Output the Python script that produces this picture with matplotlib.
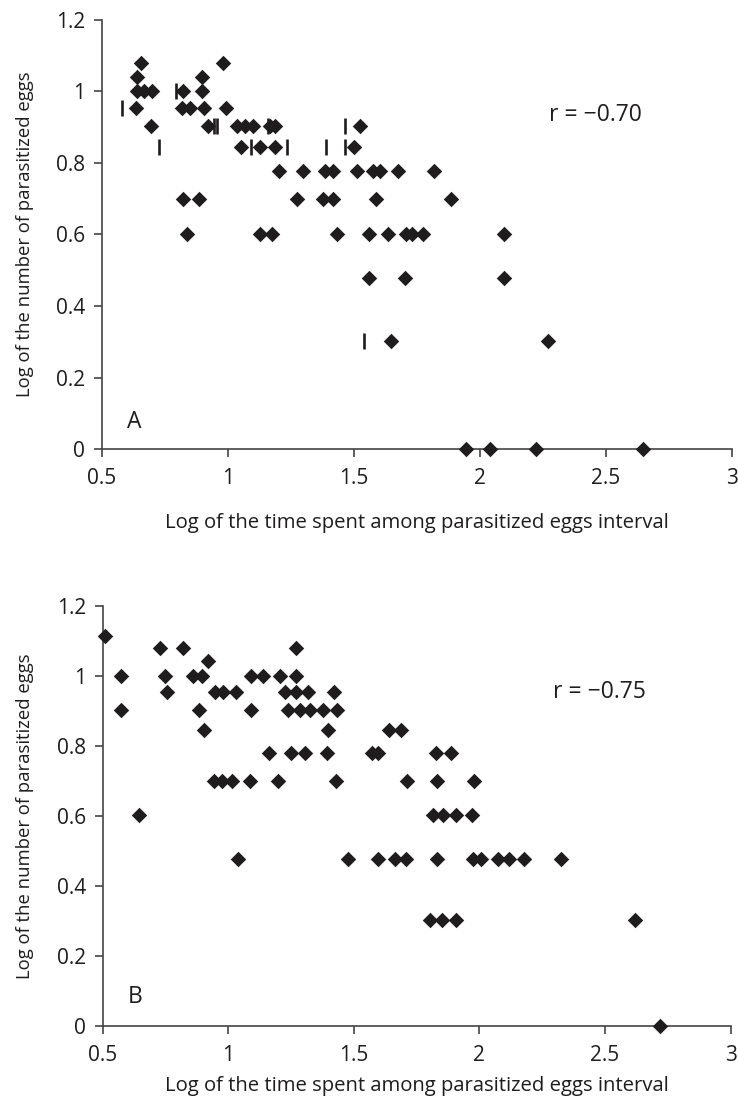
import matplotlib
matplotlib.use("Agg")
import matplotlib.pyplot as plt
import numpy as np

plt.rcParams['font.family'] = ['Open Sans', 'DejaVu Sans']

# panel A: diamonds
a_x = [0.655, 0.981,
       0.638, 0.896,
       0.638, 0.668, 0.697, 0.820, 0.896,
       0.634, 0.816, 0.849, 0.906, 0.992,
       0.693, 0.922, 1.035, 1.067, 1.100, 1.167, 1.187, 1.524,
       1.052, 1.127, 1.187, 1.500,
       1.204, 1.299, 1.385, 1.415, 1.511, 1.574, 1.603, 1.673, 1.817,
       0.820, 0.886, 1.272, 1.375, 1.415, 1.587, 1.885,
       0.838, 1.127, 1.173, 1.433, 1.558, 1.634, 1.706, 1.729, 1.773, 2.096,
       1.558, 1.704, 2.096,
       1.646, 2.271,
       1.944, 2.040, 2.222, 2.646]
a_y = [1.079, 1.079,
       1.041, 1.041,
       1.0, 1.0, 1.0, 1.0, 1.0,
       0.954, 0.954, 0.954, 0.954, 0.954,
       0.903, 0.903, 0.903, 0.903, 0.903, 0.903, 0.903, 0.903,
       0.845, 0.845, 0.845, 0.845,
       0.778, 0.778, 0.778, 0.778, 0.778, 0.778, 0.778, 0.778, 0.778,
       0.699, 0.699, 0.699, 0.699, 0.699, 0.699, 0.699,
       0.602, 0.602, 0.602, 0.602, 0.602, 0.602, 0.602, 0.602, 0.602, 0.602,
       0.477, 0.477, 0.477,
       0.301, 0.301,
       0.0, 0.0, 0.0, 0.0]

# panel A: bar-shaped marks
a_bar_x = [0.581, 0.794, 0.726, 0.944, 0.955, 1.091, 1.158, 1.235, 1.388, 1.464, 1.464, 1.541]
a_bar_y = [0.954, 1.0, 0.845, 0.903, 0.903, 0.845, 0.903, 0.845, 0.845, 0.903, 0.845, 0.301]

# panel B
b_x = [0.510,
       0.574, 0.574,
       0.729, 0.819, 1.270,
       0.749, 0.861, 0.895, 1.091, 1.140, 1.206, 1.272,
       0.755, 0.947, 0.978, 1.031, 1.227, 1.272, 1.318, 1.421,
       0.921,
       0.885, 1.091, 1.239, 1.286, 1.325, 1.378, 1.434,
       0.904, 1.396, 1.641, 1.690,
       1.162, 1.250, 1.306, 1.394, 1.571, 1.597, 1.829, 1.889,
       0.943, 0.977, 1.014, 1.087, 1.197, 1.429, 1.714, 1.833, 1.979,
       0.646, 1.816, 1.856, 1.909, 1.969,
       1.040, 1.478, 1.597, 1.663, 1.707, 1.833, 1.975, 2.008, 2.075, 2.118, 2.177, 2.327,
       1.803, 1.853, 1.909, 2.618,
       2.718]
b_y = [1.114,
       1.0, 0.903,
       1.079, 1.079, 1.079,
       1.0, 1.0, 1.0, 1.0, 1.0, 1.0, 1.0,
       0.954, 0.954, 0.954, 0.954, 0.954, 0.954, 0.954, 0.954,
       1.041,
       0.903, 0.903, 0.903, 0.903, 0.903, 0.903, 0.903,
       0.845, 0.845, 0.845, 0.845,
       0.778, 0.778, 0.778, 0.778, 0.778, 0.778, 0.778, 0.778,
       0.699, 0.699, 0.699, 0.699, 0.699, 0.699, 0.699, 0.699, 0.699,
       0.602, 0.602, 0.602, 0.602, 0.602,
       0.477, 0.477, 0.477, 0.477, 0.477, 0.477, 0.477, 0.477, 0.477, 0.477, 0.477, 0.477,
       0.301, 0.301, 0.301, 0.301,
       0.0]

x_ticks = [0.5, 1, 1.5, 2, 2.5, 3]
x_ticklabels = ['0.5', '1', '1.5', '2', '2.5', '3']
y_ticks = [0, 0.2, 0.4, 0.6, 0.8, 1.0, 1.2]
y_ticklabels = ['0', '0.2', '0.4', '0.6', '0.8', '1', '1.2']

xlabel = "Log of the time spent among parasitized eggs interval"
ylabel = "Log of the number of parasitized eggs"

ink = '#1e1c1c'
axis_col = '#444444'

fig = plt.figure(figsize=(7.38, 11.06), dpi=100)
ax_a = fig.add_axes([0.1382, 0.594, 0.8537, 0.388])
ax_b = fig.add_axes([0.1389, 0.0726, 0.851, 0.3797])


def style(ax, xpad):
    ax.set_xlim(0.5, 3)
    ax.set_ylim(0, 1.2)
    ax.set_xticks(x_ticks)
    ax.set_xticklabels(x_ticklabels)
    ax.set_yticks(y_ticks)
    ax.set_yticklabels(y_ticklabels)
    for s in ['top', 'right']:
        ax.spines[s].set_visible(False)
    for s in ['left', 'bottom']:
        ax.spines[s].set_color(axis_col)
        ax.spines[s].set_linewidth(1.2)
    ax.tick_params(direction='out', length=6, width=1.2, color=axis_col,
                   labelsize=15, labelcolor=ink, pad=6)
    ax.tick_params(axis='x', pad=8)
    ax.set_xlabel(xlabel, fontsize=14.6, color=ink, labelpad=xpad)
    ax.set_ylabel(ylabel, fontsize=13.3, color=ink, labelpad=16)


style(ax_a, 17)
ax_a.scatter(a_x, a_y, marker='D', s=62, color=ink, zorder=3, clip_on=False, linewidths=0)
ax_a.scatter(a_bar_x, a_bar_y, marker='|', s=120, color=ink, linewidths=1.9, zorder=3)
ax_a.text(2.275, 0.934, "r = \u22120.70", fontsize=16.5, color=ink, va='center')
ax_a.text(0.6, 0.075, "A", fontsize=16.5, color=ink, va='center')

style(ax_b, 7)
ax_b.scatter(b_x, b_y, marker='D', s=62, color=ink, zorder=3, clip_on=False, linewidths=0)
ax_b.text(2.295, 0.953, "r = \u22120.75", fontsize=16.5, color=ink, va='center')
ax_b.text(0.6, 0.082, "B", fontsize=16.5, color=ink, va='center')

fig.savefig("out.png", dpi=100)
